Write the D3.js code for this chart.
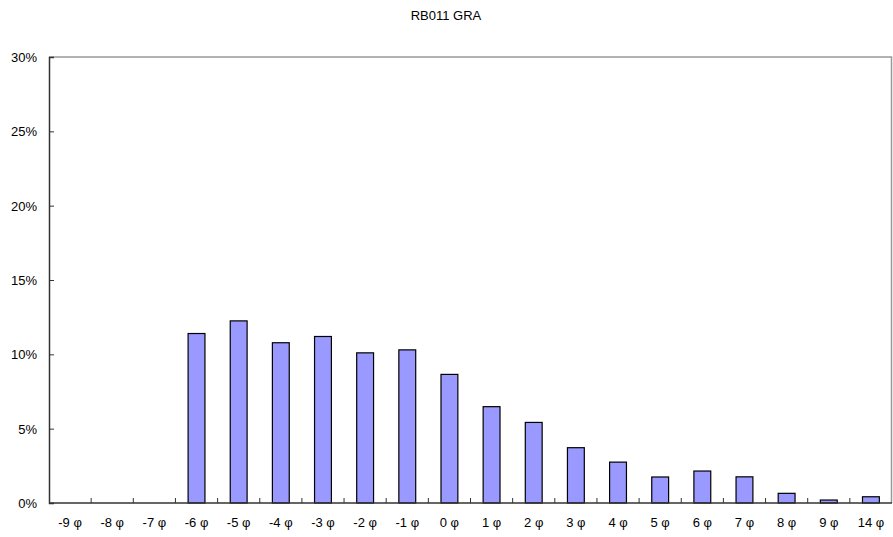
<!DOCTYPE html>
<html>
<head>
<meta charset="utf-8">
<title>RB011 GRA</title>
<script src="https://cdn.jsdelivr.net/npm/d3@7"></script>
<style>
* { margin: 0; padding: 0; }
body { background: #fff; font-family: "Liberation Sans", Arial, sans-serif; }
text { font-family: "Liberation Sans", Arial, sans-serif; fill: #000; }
</style>
</head>
<body>
<div id="chart"></div>
<script>
// grain size classes (phi) and percentages
var categories = ["-9 φ", "-8 φ", "-7 φ", "-6 φ", "-5 φ", "-4 φ", "-3 φ", "-2 φ", "-1 φ", "0 φ",
                  "1 φ", "2 φ", "3 φ", "4 φ", "5 φ", "6 φ", "7 φ", "8 φ", "9 φ", "14 φ"];
var percents = [0, 0, 0, 11.4, 12.25, 10.78, 11.2, 10.1, 10.3, 8.65,
                6.48, 5.42, 3.72, 2.75, 1.75, 2.15, 1.76, 0.65, 0.2, 0.42];
var yTicks = [0, 5, 10, 15, 20, 25, 30];
var title = "RB011 GRA";

var W = 893, H = 537;
var m = { left: 49, right: 1, top: 57, bottom: 34 };

var svg = d3.select("#chart").append("svg")
  .attr("width", W).attr("height", H);

var x = d3.scaleBand().domain(categories)
  .range([m.left, W - m.right]).paddingInner(0).paddingOuter(0);
var y = d3.scaleLinear().domain([0, 30]).range([H - m.bottom, m.top]);

svg.append("text")
  .attr("x", 446).attr("y", 20)
  .attr("text-anchor", "middle")
  .style("font-size", "13px")
  .text(title);

// plot frame: grey top / right edges
svg.append("path")
  .attr("d", "M" + m.left + "," + m.top + "H" + (W - m.right - 0.5) + "V" + (H - m.bottom))
  .attr("fill", "none").attr("stroke", "#999").attr("stroke-width", 1.5);

// bars
var bw = x.bandwidth() * 0.4;
svg.selectAll("rect.bar").data(percents).enter().append("rect")
  .attr("class", "bar")
  .attr("x", function(d, i) { return x(categories[i]) + (x.bandwidth() - bw) / 2; })
  .attr("y", function(d) { return y(d); })
  .attr("width", bw)
  .attr("height", function(d) { return y(0) - y(d); })
  .attr("fill", "#9999ff")
  .attr("stroke", "#000").attr("stroke-width", 1.2)
  .style("display", function(d) { return d > 0 ? null : "none"; });

// y axis, ticks inward
var yAxis = svg.append("g")
  .attr("transform", "translate(" + m.left + ",0)")
  .call(d3.axisLeft(y).tickValues(yTicks).tickSize(-5).tickPadding(12)
    .tickFormat(function(d) { return d + "%"; }));
yAxis.select(".domain").attr("stroke", "#333").attr("stroke-width", 1.5);
yAxis.selectAll(".tick line").attr("stroke", "#333");
yAxis.selectAll("text").style("font-size", "13px").attr("dy", "0.35em");

// x axis: ticks at category boundaries, pointing up
var xg = svg.append("g")
  .attr("transform", "translate(0," + (H - m.bottom) + ")");
xg.append("line")
  .attr("x1", m.left).attr("x2", W - m.right)
  .attr("stroke", "#333").attr("stroke-width", 1.5);
xg.selectAll("line.tk").data(categories.slice(1)).enter().append("line")
  .attr("class", "tk")
  .attr("x1", function(d) { return x(d); }).attr("x2", function(d) { return x(d); })
  .attr("y1", 0).attr("y2", -5)
  .attr("stroke", "#333");
xg.selectAll("text").data(categories).enter().append("text")
  .attr("x", function(d) { return x(d) + x.bandwidth() / 2; })
  .attr("y", 24)
  .attr("text-anchor", "middle")
  .style("font-size", "13px")
  .text(function(d) { return d; });
</script>
</body>
</html>
